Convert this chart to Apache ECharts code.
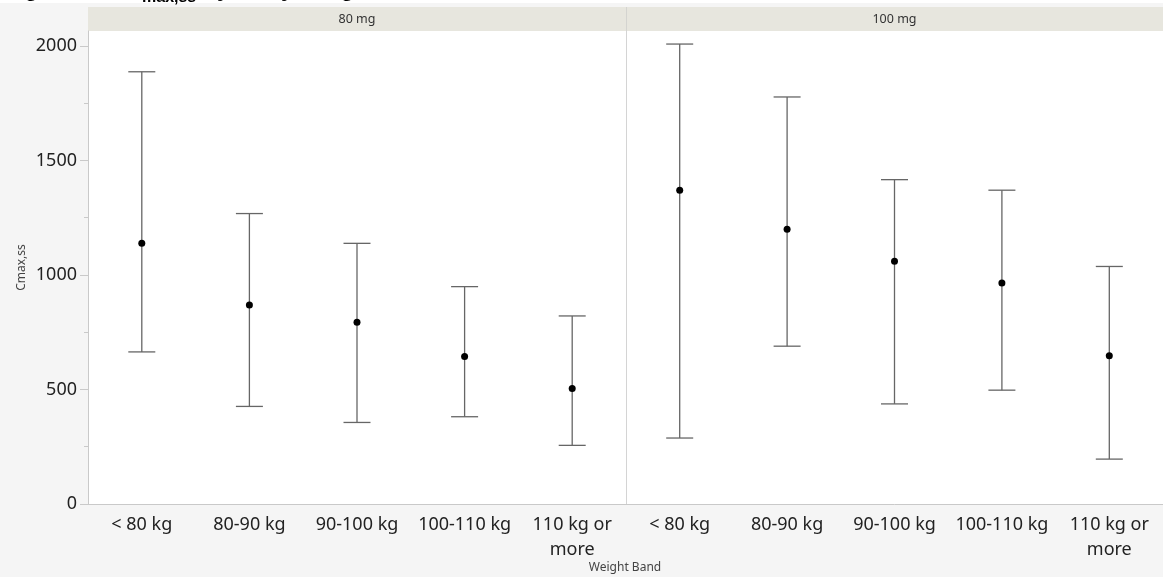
<!DOCTYPE html>
<html>
<head>
<meta charset="utf-8">
<script src="https://cdn.jsdelivr.net/npm/echarts@6/dist/echarts.min.js"></script>
<style>
  html, body { margin: 0; padding: 0; background: #ffffff; }
  #chart { width: 1163px; height: 577px; }
</style>
</head>
<body>
<div id="chart"></div>
<script>
// Weight bands shared by both dose panels
const categories = ['< 80 kg', '80-90 kg', '90-100 kg', '100-110 kg', '110 kg or\nmore'];

// 80 mg panel: mean with lower / upper whisker
const mean80 = [1138, 869, 794, 644, 504];
const low80  = [664, 426, 356, 381, 256];
const high80 = [1887, 1268, 1138, 949, 821];

// 100 mg panel
const mean100 = [1370, 1199, 1060, 965, 647];
const low100  = [288, 689, 437, 497, 196];
const high100 = [2008, 1777, 1416, 1370, 1037];

const panels = ['80 mg', '100 mg'];
const majorTicks = [0, 500, 1000, 1500, 2000];
const minorTicks = [250, 750, 1250, 1750];

const yMax = 2065;
const gridTop = 31, gridBottom = 73;
const panelSplit = 626;

const chart = echarts.init(document.getElementById('chart'));

function whiskerData(low, high) {
  return categories.map((c, i) => [i, low[i], high[i]]);
}

function renderWhisker(params, api) {
  const x = api.value(0);
  const pLow = api.coord([x, api.value(1)]);
  const pHigh = api.coord([x, api.value(2)]);
  const half = 13.5;
  const style = { stroke: '#666666', lineWidth: 1.3 };
  return {
    type: 'group',
    children: [
      { type: 'line', shape: { x1: pLow[0], y1: pLow[1], x2: pHigh[0], y2: pHigh[1] }, style },
      { type: 'line', shape: { x1: pHigh[0] - half, y1: pHigh[1], x2: pHigh[0] + half, y2: pHigh[1] }, style },
      { type: 'line', shape: { x1: pLow[0] - half, y1: pLow[1], x2: pLow[0] + half, y2: pLow[1] }, style }
    ]
  };
}

const labelFont = { fontFamily: 'Noto Sans', fontSize: 18, color: '#222' };

function xAxisFor(gridIndex) {
  return {
    type: 'category',
    gridIndex,
    data: categories,
    axisLine: { show: true, lineStyle: { color: '#c9c9c9', width: 1 } },
    axisTick: { show: false },
    axisLabel: Object.assign({ interval: 0, margin: 8, lineHeight: 25 }, labelFont),
    splitLine: { show: false }
  };
}

const option = {
  backgroundColor: '#ffffff',
  animation: false,
  graphic: [
    // outer panel background
    { type: 'rect', z: -10, shape: { x: 0, y: 3, width: 1163, height: 574 }, style: { fill: '#f5f5f5' } },
    // facet header strips
    { type: 'rect', z: -5, shape: { x: 88, y: 7, width: panelSplit - 88, height: gridTop - 7 }, style: { fill: '#e7e6de' } },
    { type: 'rect', z: -5, shape: { x: panelSplit + 1, y: 7, width: 1163 - panelSplit - 1, height: gridTop - 7 }, style: { fill: '#e7e6de' } },
    { type: 'line', z: -4, shape: { x1: panelSplit + 0.5, y1: 7, x2: panelSplit + 0.5, y2: gridTop }, style: { stroke: '#d4d4d0', lineWidth: 1 } },
    { type: 'text', z: 5, style: { x: (88 + panelSplit) / 2, y: 19, text: panels[0], align: 'center', verticalAlign: 'middle', font: '12.5px "Noto Sans"', fill: '#333' } },
    { type: 'text', z: 5, style: { x: (panelSplit + 1163) / 2, y: 19, text: panels[1], align: 'center', verticalAlign: 'middle', font: '12.5px "Noto Sans"', fill: '#333' } },
    // x axis title
    { type: 'text', z: 5, style: { x: 625, y: 568, text: 'Weight Band', align: 'center', verticalAlign: 'middle', font: '12px "Noto Sans"', fill: '#444' } },
    // figure title (top edge of the page)
    { type: 'text', z: 5, style: { x: 4, y: -10, text: 'Figure 12: C', align: 'left', verticalAlign: 'middle', font: 'bold 23px "Liberation Sans"', fill: '#000' } },
    { type: 'text', z: 5, style: { x: 142, y: -2, text: 'max,ss', align: 'left', verticalAlign: 'middle', font: 'bold 16px "Liberation Sans"', fill: '#000' } },
    { type: 'text', z: 5, style: { x: 203, y: -10, text: 'by Body Weight', align: 'left', verticalAlign: 'middle', font: 'bold 23px "Liberation Sans"', fill: '#000' } }
  ],
  grid: [
    { left: 88, right: 1163 - panelSplit, top: gridTop, bottom: gridBottom, show: true, backgroundColor: '#ffffff', borderWidth: 0 },
    { left: panelSplit, right: 0, top: gridTop, bottom: gridBottom, show: true, backgroundColor: '#ffffff', borderWidth: 0 }
  ],
  xAxis: [xAxisFor(0), xAxisFor(1)],
  yAxis: [
    {
      type: 'value', gridIndex: 0, min: 0, max: yMax,
      name: 'Cmax,ss', nameLocation: 'middle', nameRotate: 90, nameGap: 60,
      nameTextStyle: { fontFamily: 'Noto Sans', fontSize: 12, color: '#444' },
      axisLine: { show: true, lineStyle: { color: '#c9c9c9' } },
      axisTick: { show: true, length: 8, customValues: majorTicks, lineStyle: { color: '#c9c9c9' } },
      axisLabel: Object.assign({ customValues: majorTicks, margin: 11, formatter: (v) => String(v) }, labelFont),
      splitLine: { show: false }
    },
    {
      type: 'value', gridIndex: 0, min: 0, max: yMax, position: 'left',
      axisLine: { show: false },
      axisTick: { show: true, length: 4, customValues: minorTicks, lineStyle: { color: '#c9c9c9' } },
      axisLabel: { show: false },
      splitLine: { show: false }
    },
    {
      type: 'value', gridIndex: 1, min: 0, max: yMax,
      axisLine: { show: true, lineStyle: { color: '#d4d4d4' } },
      axisTick: { show: false },
      axisLabel: { show: false },
      splitLine: { show: false }
    }
  ],
  series: [
    { type: 'custom', xAxisIndex: 0, yAxisIndex: 0, renderItem: renderWhisker, encode: { x: 0, y: [1, 2] }, data: whiskerData(low80, high80), z: 2 },
    { type: 'custom', xAxisIndex: 1, yAxisIndex: 2, renderItem: renderWhisker, encode: { x: 0, y: [1, 2] }, data: whiskerData(low100, high100), z: 2 },
    { type: 'scatter', xAxisIndex: 0, yAxisIndex: 0, data: mean80, symbol: 'circle', symbolSize: 7, itemStyle: { color: '#000', opacity: 1 }, z: 3 },
    { type: 'scatter', xAxisIndex: 1, yAxisIndex: 2, data: mean100, symbol: 'circle', symbolSize: 7, itemStyle: { color: '#000', opacity: 1 }, z: 3 }
  ]
};

chart.setOption(option);
</script>
</body>
</html>
